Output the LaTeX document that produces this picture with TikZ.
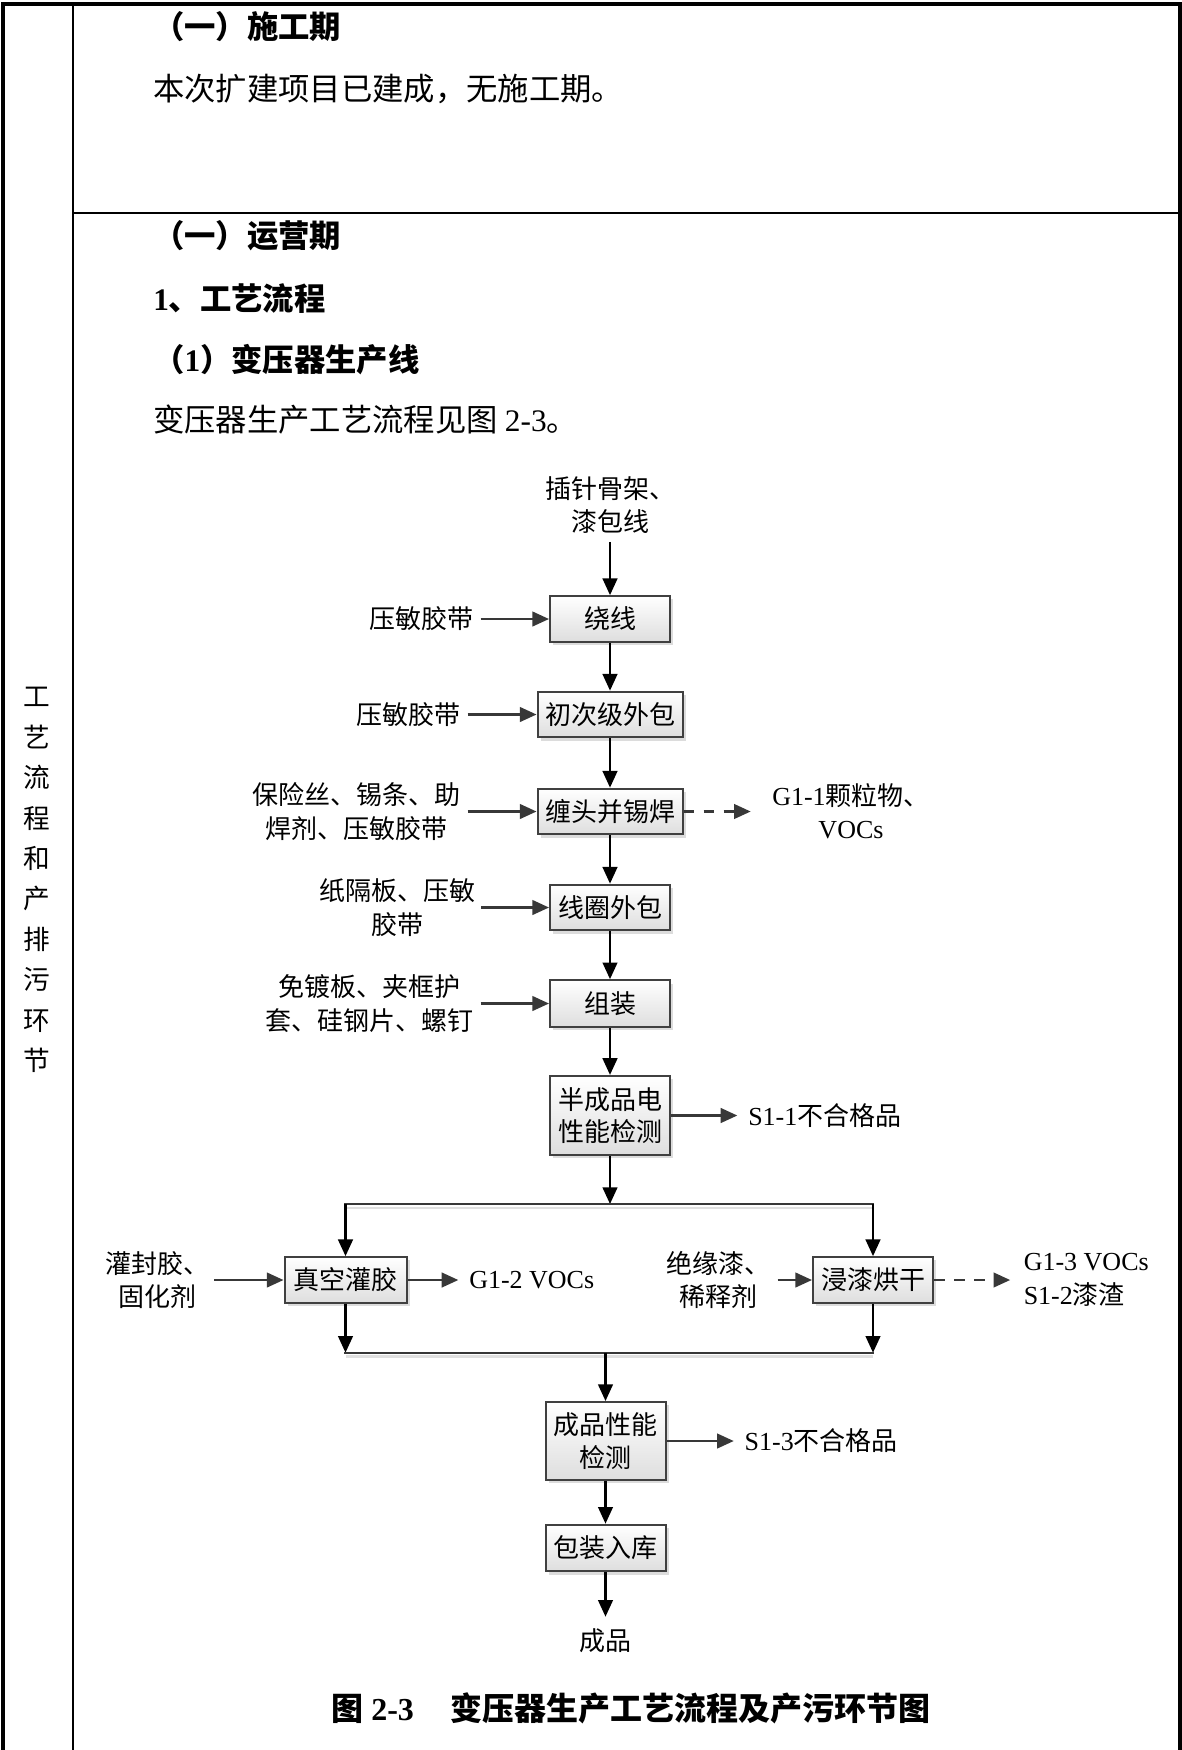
\documentclass[tikz,border=0pt]{standalone}
\usepackage{fontspec}
\setmainfont{Liberation Serif}
\newfontfamily\cjk{Noto Sans CJK SC}
\usetikzlibrary{arrows.meta,shadows}
\newcommand\zh[1]{{\cjk #1}}
\newcommand\en[1]{{\rmfamily #1}}
\begin{document}
\begin{tikzpicture}[x=0.75pt,y=-0.75pt,
  box/.style={draw=black!75, line width=1.5pt, top color=white, bottom color=black!13,
    minimum width=90pt, minimum height=34.3pt, inner sep=2pt, align=center,
    font=\fontsize{19.5}{24.5}\selectfont\cjk,
    drop shadow={shadow xshift=2.5pt, shadow yshift=-2.5pt, fill=black!30, opacity=0.45}},
  lbl/.style={inner sep=0pt, align=center, font=\fontsize{19.5}{25}\selectfont\cjk},
  hd/.style={inner sep=0pt, anchor=west, font=\fontsize{23.5}{28}\selectfont\cjk},
  hdb/.style={hd, font=\fontsize{23.5}{28}\selectfont\cjk\bfseries},
  flow/.style={line width=1.7pt, -{Triangle[length=12.5pt,width=11pt]}},
  side/.style={flow, draw=black!78},
  dsh/.style={side, dash pattern=on 8pt off 7pt},
  bar/.style={line width=1.7pt, draw=black!78, line cap=rect},
  rule/.style={line width=1.7pt},
]
\useasboundingbox (0,0) rectangle (1182,1750);

% table frame
\draw[line width=2.3pt] (3,1750) -- (3,4) -- (1180,4) -- (1180,1750);
\draw[rule] (73,4) -- (73,1750);
\draw[rule] (73,213) -- (1180,213);

% left column
\node[inner sep=0pt, align=center, font=\fontsize{20}{30.3}\selectfont\cjk] (vt) at (37,880)
  {工\\艺\\流\\程\\和\\产\\排\\污\\环\\节};

% headings and text
\node[hdb] (h1) at (153,27) {（一）施工期};
\node[hd] (p1) at (153,89) {本次扩建项目已建成，无施工期。};
\node[hdb] (h2) at (153,236) {（一）运营期};
\node[hdb] (h3) at (153,299) {\en{1}、工艺流程};
\node[hdb] (h4) at (153,360) {（\en{1}）变压器生产线};
\node[hd] (p2) at (153,420) {变压器生产工艺流程见图 \en{2-3}。};

% process boxes
\node[box] (b1) at (610,619) {绕线};
\node[box, minimum width=108.75pt] (b2) at (610,714.5) {初次级外包};
\node[box, minimum width=108.75pt] (b3) at (610,811.5) {缠头并锡焊};
\node[box] (b4) at (610,907.5) {线圈外包};
\node[box, minimum height=35pt] (b5) at (610,1003.5) {组装};
\node[box, minimum height=59.4pt] (b6) at (610,1115.5) {半成品电\\性能检测};
\node[box, minimum width=91.5pt] (b7) at (345.5,1280) {真空灌胶};
\node[box] (b8) at (873,1280) {浸漆烘干};
\node[box, minimum height=58.5pt] (b9) at (605.5,1441) {成品性能\\检测};
\node[box, minimum height=35pt] (b10) at (605.5,1548) {包装入库};

% labels
\node[lbl] (t0) at (610,505) {插针骨架、\\漆包线};
\node[lbl, anchor=east] (in1) at (474,619) {压敏胶带};
\node[lbl, anchor=east] (in2) at (461,714.5) {压敏胶带};
\node[lbl, anchor=east] (in3) at (461,811.5) {保险丝、锡条、助\\焊剂、压敏胶带};
\node[lbl, anchor=east] (in4) at (476,907.5) {纸隔板、压敏\\胶带};
\node[lbl, anchor=east] (in5) at (474,1003.5) {免镀板、夹框护\\套、硅钢片、螺钉};
\node[lbl, anchor=west] (o3) at (772,811.5) {\en{G1-1}颗粒物、\\\en{VOCs}};
\node[lbl, anchor=west] (o6) at (748,1115.5) {\en{S1-1}不合格品};
\node[lbl, anchor=east] (in7) at (210,1280) {灌封胶、\\固化剂};
\node[lbl, anchor=west] (o7) at (469,1280) {\en{G1-2 VOCs}};
\node[lbl, anchor=east] (in8) at (771,1280) {绝缘漆、\\稀释剂};
\node[lbl, anchor=west, align=left] (o8) at (1023.5,1280) {\en{G1-3 VOCs}\\\en{S1-2}漆渣};
\node[lbl, anchor=west] (o9) at (744.4,1441) {\en{S1-3}不合格品};
\node[lbl] (end) at (605.5,1641) {成品};

% main flow
\draw[flow, shorten <=6pt] (t0.south) -- (b1.north);
\draw[flow] (b1) -- (b2);
\draw[flow] (b2) -- (b3);
\draw[flow] (b3) -- (b4);
\draw[flow] (b4) -- (b5);
\draw[flow] (b5) -- (b6);

% inputs
\draw[side, shorten <=5pt] (in1.east) -- (b1.west);
\draw[side, shorten <=5pt] (in2.east) -- (b2.west);
\draw[side, shorten <=5pt] (in3.east) -- (b3.west);
\draw[side, shorten <=4pt] (in4.east) -- (b4.west);
\draw[side, shorten <=5pt] (in5.east) -- (b5.west);
\draw[side, shorten <=3pt] (in7.east) -- (b7.west);
\draw[side, shorten <=5pt] (in8.east) -- (b8.west);

% outputs
\draw[dsh, shorten >=16pt] (b3.east) -- (o3.west);
\draw[side, shorten >=8pt] (b6.east) -- (o6.west);
\draw[side, shorten >=8pt] (b7.east) -- (o7.west);
\draw[dsh, shorten >=10pt] (b8.east) -- (o8.west);
\draw[side, shorten >=8pt] (b9.east) -- (o9.west);

% split / merge
\coordinate (m1) at (610,1204);
\coordinate (s1) at (345.5,1204);
\coordinate (s2) at (873,1204);
\coordinate (r1) at (345.5,1352.7);
\coordinate (r2) at (873,1352.7);
\coordinate (m2) at (605.5,1352.7);
\draw[black!12, line width=2pt] ([yshift=-3pt]s1) -- ([yshift=-3pt]s2);
\draw[black!12, line width=2pt] ([yshift=-3pt]r1) -- ([yshift=-3pt]r2);
\draw[flow] (b6.south) -- (m1);
\draw[bar] (s1) -- (s2);
\draw[flow] (s1) -- (b7.north);
\draw[flow] (s2) -- (b8.north);
\draw[flow] (b7.south) -- (r1);
\draw[flow] (b8.south) -- (r2);
\draw[bar] (r1) -- (r2);
\draw[flow] (m2) -- (b9.north);
\draw[flow] (b9) -- (b10);
\draw[flow, shorten >=9pt] (b10.south) -- (end.north);

% caption
\node[inner sep=0pt, anchor=west, font=\fontsize{24}{28}\selectfont\bfseries] (cap) at (331,1708)
  {\zh{图} 2-3\hspace{1.15em}\zh{变压器生产工艺流程及产污环节图}};
\end{tikzpicture}
\end{document}
